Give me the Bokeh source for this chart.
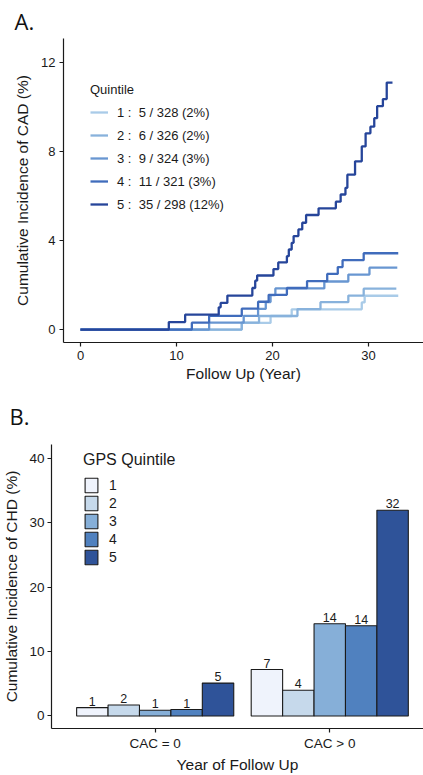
from bokeh.plotting import figure
from bokeh.models import (Range1d, FixedTicker, Legend, LegendItem, ColumnDataSource)
from bokeh.embed import file_html
from bokeh.resources import INLINE

# ---------------- Panel A data (cumulative incidence step curves) ----------------
quintile_labels = ["1 :  5 / 328 (2%)", "2 :  6 / 326 (2%)", "3 :  9 / 324 (3%)",
                   "4 :  11 / 321 (3%)", "5 :  35 / 298 (12%)"]

times1 = [16.8, 19.8, 22.0, 29.3, 29.6]
vals1 = [0.30, 0.61, 0.91, 1.22, 1.52]
end1 = 33.1

times2 = [16.8, 18.6, 22.6, 25.0, 27.9, 29.5]
vals2 = [0.31, 0.61, 0.92, 1.23, 1.53, 1.84]
end2 = 32.9

times3 = [13.4, 17.0, 18.5, 19.3, 19.8, 20.3, 25.4, 27.9, 30.1]
vals3 = [0.31, 0.62, 0.93, 1.24, 1.55, 1.85, 2.16, 2.47, 2.78]
end3 = 33.0

times4 = [11.6, 13.4, 16.8, 18.5, 19.6, 21.5, 23.6, 25.7, 26.8, 27.3, 29.5]
vals4 = [0.31, 0.62, 0.94, 1.25, 1.56, 1.87, 2.18, 2.50, 2.81, 3.12, 3.43]
end4 = 33.1

times5 = [9.2, 10.9, 14.4, 14.6, 15.3, 17.9, 18.2, 18.4, 20.1, 20.6, 21.5, 21.7, 22.0,
          22.2, 22.7, 23.1, 23.5, 24.8, 26.6, 27.1, 27.6, 27.8, 28.6, 29.3, 29.7, 30.2,
          30.6, 30.9, 31.5, 31.9]
vals5 = [0.34, 0.67, 1.0, 1.2, 1.53, 1.87, 2.2, 2.43, 2.72, 3.02, 3.3, 3.6, 3.9, 4.2,
         4.5, 4.8, 5.15, 5.45, 5.75, 6.07, 6.37, 6.96, 7.56, 8.23, 8.82, 9.12, 9.5,
         10.04, 10.36, 11.1]
end5 = 32.5

a_xticks = [0, 10, 20, 30]
a_yticks = [0, 4, 8, 12]

# ---------------- Panel B data ----------------
cac_groups = ["CAC = 0", "CAC > 0"]
gps_quintiles = ["1", "2", "3", "4", "5"]
inc_cac0 = [1.3, 1.7, 0.9, 1.0, 5.1]
inc_cac1 = [7.2, 4.0, 14.3, 14.0, 31.9]
b_yticks = [0, 10, 20, 30, 40]

line_colors = ["#a9cbe8", "#88b2dc", "#6896d1", "#406cbc", "#26459a"]
bar_colors = ["#eff3fc", "#c6d9eb", "#86afd8", "#5081bf", "#2f5399"]

FONT = "Liberation Sans"
INK = "#1a1a1a"


def style_axes(p, fs_tick, fs_title):
    for ax in (p.xaxis[0], p.yaxis[0]):
        ax.axis_line_color = INK
        ax.axis_line_width = 1.2
        ax.major_tick_line_color = INK
        ax.major_tick_line_width = 1.2
        ax.major_tick_in = 0
        ax.major_tick_out = 4
        ax.minor_tick_line_color = None
        ax.major_label_text_font = FONT
        ax.major_label_text_font_size = fs_tick
        ax.major_label_text_color = INK
        ax.axis_label_text_font = FONT
        ax.axis_label_text_font_size = fs_title
        ax.axis_label_text_font_style = "normal"
        ax.axis_label_text_color = INK
    p.xgrid.grid_line_color = None
    p.ygrid.grid_line_color = None
    p.outline_line_color = None


# ================= Panel A =================
pA = figure(width=423, height=384, output_backend="svg", toolbar_location=None,
            x_range=Range1d(-1.77, 35.73), y_range=Range1d(-0.58, 13.08),
            min_border_left=63, min_border_right=0, min_border_top=36, min_border_bottom=42,
            x_axis_label="Follow Up (Year)", y_axis_label="Cumulative Incidence of CAD (%)",
            title="A.")
style_axes(pA, "13px", "15.5px")
pA.title.align = "left"
pA.title.offset = -49
pA.title.standoff = 6
pA.title.text_font = "Open Sans"
pA.title.text_font_size = "22px"
pA.title.text_font_style = "normal"
pA.title.text_color = "#111111"
pA.xaxis.ticker = FixedTicker(ticks=a_xticks)
pA.yaxis.ticker = FixedTicker(ticks=a_yticks)
pA.xaxis.major_label_standoff = 4
pA.yaxis.major_label_standoff = 4
pA.xaxis.axis_label_standoff = 2
pA.yaxis.axis_label_standoff = 7

items = []
series = [(times1, vals1, end1), (times2, vals2, end2), (times3, vals3, end3),
          (times4, vals4, end4), (times5, vals5, end5)]
for i, (t, v, e) in enumerate(series):
    xs = [0] + t + [e]
    ys = [0] + v + [v[-1]]
    r = pA.step(xs, ys, mode="after", line_color=line_colors[i], line_width=2.3)
    items.append(LegendItem(label=quintile_labels[i], renderers=[r]))

legA = Legend(items=items, location=(27, 128), title="Quintile",
              title_text_font=FONT, title_text_font_size="13px", title_text_font_style="normal",
              title_text_color=INK, title_standoff=5,
              label_text_font=FONT, label_text_font_size="13px", label_text_color=INK,
              glyph_width=18, glyph_height=20, label_height=20, label_standoff=9,
              spacing=3, padding=0, margin=0,
              border_line_color=None, background_fill_alpha=0)
pA.add_layout(legA, "center")

# ================= Panel B =================
pB = figure(width=423, height=391, output_backend="svg", toolbar_location=None,
            x_range=Range1d(0.406, 2.537), y_range=Range1d(-1.94, 42.1),
            min_border_left=50, min_border_right=0, min_border_top=59, min_border_bottom=46,
            x_axis_label="Year of Follow Up", y_axis_label="Cumulative Incidence of CHD (%)",
            title="B.")
style_axes(pB, "13.5px", "15.5px")
pB.title.align = "left"
pB.title.offset = -42
pB.title.standoff = 28
pB.title.text_font = "Open Sans"
pB.title.text_font_size = "22px"
pB.title.text_font_style = "normal"
pB.title.text_color = "#111111"
pB.xaxis.ticker = FixedTicker(ticks=[1, 2])
pB.xaxis.major_label_overrides = {1: cac_groups[0], 2: cac_groups[1]}
pB.yaxis.ticker = FixedTicker(ticks=b_yticks)
pB.xaxis.major_label_standoff = 3
pB.yaxis.major_label_standoff = 3
pB.xaxis.axis_label_standoff = 2
pB.yaxis.axis_label_standoff = 6

bar_w = 0.18
itemsB = []
lab_x, lab_y, lab_t = [], [], []
for qi, q in enumerate(gps_quintiles):
    xs = [g + 1 + (qi - 2) * bar_w for g in range(len(cac_groups))]
    tops = [inc_cac0[qi], inc_cac1[qi]]
    src = ColumnDataSource(dict(x=xs, top=tops))
    r = pB.vbar(x="x", top="top", bottom=0, width=bar_w, source=src,
                fill_color=bar_colors[qi], line_color=INK, line_width=1.1)
    itemsB.append(LegendItem(label=q, renderers=[r]))
    lab_x += xs
    lab_y += tops
    lab_t += [str(int(round(v))) for v in tops]

pB.text(x=lab_x, y=lab_y, text=lab_t, text_align="center", text_baseline="bottom",
        y_offset=-2, text_font_size="12.5px", text_color=INK,
        text_font={"value": FONT})

legB = Legend(items=itemsB, location=(32, 162), title="GPS Quintile",
              title_text_font=FONT, title_text_font_size="16px", title_text_font_style="normal",
              title_text_color=INK, title_standoff=7,
              label_text_font=FONT, label_text_font_size="14px", label_text_color=INK,
              glyph_width=16, glyph_height=18, label_height=18, label_standoff=10,
              spacing=0, padding=0, margin=0,
              border_line_color=None, background_fill_alpha=0)
pB.add_layout(legB, "center")

open("out.html", "w").write(file_html([pA, pB], INLINE))
